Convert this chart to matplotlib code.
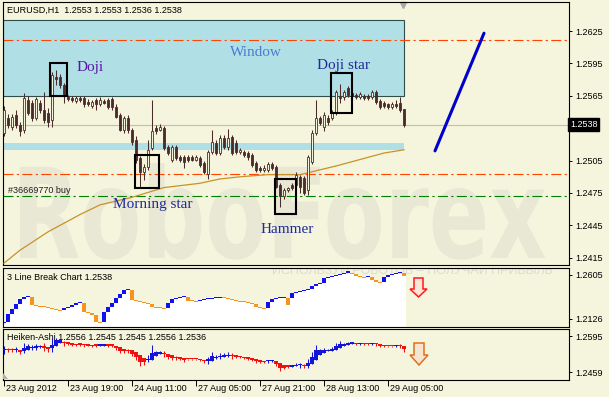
import numpy as np
import matplotlib.pyplot as plt
from matplotlib.patches import Rectangle, Polygon, PathPatch
from matplotlib.textpath import TextPath
from matplotlib.font_manager import FontProperties
from matplotlib.transforms import Affine2D, ScaledTranslation, blended_transform_factory

plt.rcParams['font.family'] = ['Liberation Sans', 'DejaVu Sans']

# ---- EURUSD, H1 : 23 Aug 2012 -> 29 Aug 2012 09:00 ----
opens = [1.2531, 1.2544, 1.2536, 1.2547, 1.2538, 1.2533, 1.2561, 1.2558, 1.2544, 1.2558,
         1.2552, 1.2549, 1.2543, 1.2582, 1.2582, 1.2575, 1.2564, 1.2563, 1.2560, 1.2563,
         1.2563, 1.2559, 1.2556, 1.2561, 1.2557, 1.2560, 1.2561, 1.2562, 1.2555, 1.2547,
         1.2533, 1.2544, 1.2533, 1.2524, 1.2507, 1.2494, 1.2499, 1.2517, 1.2535, 1.2533,
         1.2535, 1.2518, 1.2506, 1.2518, 1.2508, 1.2508, 1.2508, 1.2508, 1.2506, 1.2507,
         1.2503, 1.2493, 1.2513, 1.2521, 1.2512, 1.2526, 1.2518, 1.2527, 1.2521, 1.2513,
         1.2513, 1.2512, 1.2510, 1.2503, 1.2498, 1.2496, 1.2496, 1.2502, 1.2499, 1.2482,
         1.2472, 1.2478, 1.2482, 1.2482, 1.2490, 1.2489, 1.2478, 1.2504, 1.2531, 1.2544,
         1.2536, 1.2544, 1.2544, 1.2549, 1.2564, 1.2564, 1.2572, 1.2568, 1.2566, 1.2564,
         1.2565, 1.2565, 1.2564, 1.2569, 1.2560, 1.2558, 1.2557, 1.2555, 1.2557, 1.2558,
         1.2553]
highs = [1.2556, 1.2548, 1.2548, 1.2552, 1.2541, 1.2568, 1.2565, 1.2561, 1.2564, 1.2561,
         1.2569, 1.2554, 1.2587, 1.2589, 1.2585, 1.2577, 1.2566, 1.2565, 1.2565, 1.2565,
         1.2565, 1.2562, 1.2561, 1.2563, 1.2564, 1.2562, 1.2563, 1.2564, 1.2557, 1.2549,
         1.2546, 1.2547, 1.2535, 1.2528, 1.2509, 1.2502, 1.2524, 1.2561, 1.2538, 1.2539,
         1.2537, 1.2519, 1.2519, 1.2519, 1.2510, 1.2510, 1.2510, 1.2510, 1.2510, 1.2509,
         1.2505, 1.2515, 1.2533, 1.2524, 1.2529, 1.2529, 1.2534, 1.2529, 1.2524, 1.2517,
         1.2515, 1.2514, 1.2512, 1.2505, 1.2500, 1.2501, 1.2504, 1.2504, 1.2501, 1.2484,
         1.2480, 1.2481, 1.2484, 1.2494, 1.2492, 1.2491, 1.2510, 1.2533, 1.2561, 1.2546,
         1.2550, 1.2547, 1.2552, 1.2570, 1.2576, 1.2570, 1.2574, 1.2569, 1.2568, 1.2569,
         1.2567, 1.2567, 1.2570, 1.2570, 1.2562, 1.2560, 1.2558, 1.2559, 1.2561, 1.2564,
         1.2553]
lows = [1.2528, 1.2535, 1.2533, 1.2535, 1.2528, 1.2531, 1.2547, 1.2542, 1.2543, 1.2549,
        1.2540, 1.2536, 1.2536, 1.2575, 1.2572, 1.2558, 1.2560, 1.2559, 1.2558, 1.2559,
        1.2555, 1.2556, 1.2554, 1.2552, 1.2556, 1.2557, 1.2553, 1.2552, 1.2544, 1.2532,
        1.2531, 1.2531, 1.2519, 1.2503, 1.2481, 1.2487, 1.2496, 1.2515, 1.2530, 1.2532,
        1.2515, 1.2510, 1.2504, 1.2506, 1.2504, 1.2498, 1.2504, 1.2505, 1.2505, 1.2499,
        1.2493, 1.2488, 1.2511, 1.2510, 1.2510, 1.2516, 1.2515, 1.2510, 1.2511, 1.2511,
        1.2508, 1.2506, 1.2499, 1.2494, 1.2494, 1.2494, 1.2494, 1.2496, 1.2480, 1.2462,
        1.2469, 1.2476, 1.2478, 1.2481, 1.2475, 1.2473, 1.2473, 1.2502, 1.2529, 1.2538,
        1.2532, 1.2538, 1.2543, 1.2547, 1.2558, 1.2561, 1.2564, 1.2563, 1.2562, 1.2562,
        1.2561, 1.2561, 1.2562, 1.2557, 1.2553, 1.2554, 1.2553, 1.2553, 1.2554, 1.2550,
        1.2536]
closes = [1.2552, 1.2538, 1.2545, 1.2538, 1.2532, 1.2563, 1.2549, 1.2544, 1.2562, 1.2552,
          1.2543, 1.2541, 1.2584, 1.2581, 1.2575, 1.2565, 1.2562, 1.2561, 1.2563, 1.2561,
          1.2557, 1.2557, 1.2559, 1.2557, 1.2561, 1.2558, 1.2555, 1.2555, 1.2545, 1.2533,
          1.2544, 1.2533, 1.2522, 1.2506, 1.2494, 1.2499, 1.2515, 1.2532, 1.2532, 1.2536,
          1.2517, 1.2512, 1.2518, 1.2507, 1.2506, 1.2504, 1.2506, 1.2506, 1.2508, 1.2501,
          1.2494, 1.2513, 1.2522, 1.2512, 1.2526, 1.2518, 1.2526, 1.2512, 1.2513, 1.2515,
          1.2510, 1.2508, 1.2501, 1.2496, 1.2496, 1.2498, 1.2502, 1.2498, 1.2481, 1.2472,
          1.2478, 1.2480, 1.2480, 1.2492, 1.2481, 1.2475, 1.2508, 1.2531, 1.2544, 1.2540,
          1.2547, 1.2541, 1.2549, 1.2569, 1.2563, 1.2569, 1.2566, 1.2565, 1.2564, 1.2567,
          1.2563, 1.2563, 1.2569, 1.2559, 1.2555, 1.2556, 1.2555, 1.2557, 1.2556, 1.2552,
          1.2538]

# moving average read at some bars
ma_bar = [0, 4, 11, 19, 24, 32, 40, 49, 54, 59, 66, 74, 83, 91, 95, 100]
ma_val = [1.2410, 1.2422, 1.2439, 1.2455, 1.2464, 1.2471, 1.2480, 1.2484, 1.2488,
          1.2490, 1.2492, 1.2492, 1.2500, 1.2508, 1.2512, 1.2515]

# 3 Line Break: close of each brick
lb_first_open = 1.2083
lb_close = [1.2090, 1.2177, 1.2235, 1.2286, 1.2340, 1.2369, 1.2376, 1.2279, 1.2268, 1.2260,
            1.2253, 1.2242, 1.2231, 1.2220, 1.2213, 1.2242, 1.2260, 1.2279, 1.2297, 1.2304,
            1.2206, 1.2195, 1.2170, 1.2097, 1.2086, 1.2199, 1.2253, 1.2304, 1.2351, 1.2398,
            1.2442, 1.2453, 1.2333, 1.2322, 1.2315, 1.2304, 1.2289, 1.2260, 1.2249, 1.2242,
            1.2239, 1.2297, 1.2344, 1.2355, 1.2362, 1.2366, 1.2322, 1.2318, 1.2315, 1.2337,
            1.2340, 1.2347, 1.2351, 1.2355, 1.2362, 1.2351, 1.2344, 1.2337, 1.2326, 1.2315,
            1.2308, 1.2304, 1.2286, 1.2253, 1.2242, 1.2239, 1.2308, 1.2340, 1.2351, 1.2358,
            1.2362, 1.2279, 1.2406, 1.2424, 1.2431, 1.2442, 1.2453, 1.2489, 1.2503, 1.2514,
            1.2569, 1.2583, 1.2594, 1.2605, 1.2616, 1.2627, 1.2649, 1.2612, 1.2598, 1.2583,
            1.2569, 1.2587, 1.2551, 1.2533, 1.2518, 1.2587, 1.2605, 1.2612, 1.2623, 1.2634,
            1.2598]

# objects drawn on the chart
window_top, window_bottom = 1.2635, 1.2565
gap_top, gap_bottom = 1.2521, 1.2515
sell_levels = [1.2617, 1.2493]
buy_level = 1.2472
last_price = 1.2538
trend_bars = [107.75, 120.0]
trend_prices = [1.2514, 1.2623]

pattern_boxes = [(11.5, 15.75, 1.2565, 1.2595),    # Doji
                 (81.7, 86.9, 1.2549, 1.2586),     # Doji star
                 (32.7, 38.8, 1.2480, 1.2510),     # Morning star
                 (67.7, 72.9, 1.2456, 1.2488)]     # Hammer
pattern_labels = ['Doji', 'Doji star', 'Morning star', 'Hammer', 'Window']
pattern_label_pos = [(18.25, 1.2588), (78.25, 1.2590), (27.25, 1.2461),
                     (64.25, 1.2438), (56.5, 1.2602)]
pattern_label_col = ['#5B10A8', '#1F2A99', '#1F2A99', '#1F2A99', '#4A7BD0']

price_ticks = [1.2415, 1.2445, 1.2475, 1.2505, 1.2535, 1.2565, 1.2595, 1.2625]
lb_ticks = [1.2126, 1.2605]
ha_ticks = [1.2459, 1.2595]
time_ticks = [0, 16, 32, 48, 64, 80, 96]
time_labels = ['23 Aug 2012', '23 Aug 19:00', '24 Aug 11:00', '27 Aug 05:00',
               '27 Aug 21:00', '28 Aug 13:00', '29 Aug 05:00']

BG = '#F5F4DC'
CANDLE = '#4A2C2C'
W, H = 609, 397

fig = plt.figure(figsize=(W / 100, H / 100), dpi=100)
fig.patch.set_facecolor(BG)


def px_box(l, t, r, b):
    return [l / W, 1 - b / H, (r - l) / W, (b - t) / H]


ax = fig.add_axes(px_box(3, 2, 569, 265))
ax2 = fig.add_axes(px_box(3, 268, 569, 327), sharex=ax)
ax3 = fig.add_axes(px_box(3, 329, 569, 380), sharex=ax)

for a in (ax, ax2, ax3):
    a.set_facecolor(BG)
    for s in a.spines.values():
        s.set_linewidth(0.8)
        s.set_color('black')
    a.yaxis.tick_right()
    a.tick_params(axis='y', direction='out', length=2.2, width=0.7, pad=2.6,
                  labelsize=6.5, colors='black')
ax.set_xlim(-0.25, 141.25)

# ---------------- main chart ----------------
o = np.array(opens); h = np.array(highs); l = np.array(lows); c = np.array(closes)
x = np.arange(len(o))

# watermark
fp = FontProperties(family='DejaVu Sans', weight='bold')
tp = TextPath((0, 0), 'RoboForex', size=1, prop=fp)
ext = tp.get_extents()
cap = TextPath((0, 0), 'R', size=1, prop=fp).get_extents().y1
wx0, wx1, wy0, wy1 = 0.030, 0.958, 0.027, 0.373
tr = Affine2D().translate(-ext.x0, 0).scale((wx1 - wx0) / ext.width, (wy1 - wy0) / cap) \
    .translate(wx0, wy0) + ax.transAxes
ax.add_patch(PathPatch(tp, transform=tr, fc='#E8E8D5', ec='none', zorder=0))

xmin = ax.get_xlim()[0]
ax.add_patch(Rectangle((xmin, window_bottom), 100 - xmin, window_top - window_bottom,
                       fc='#B0E0E6', ec='#2F4F4F', lw=0.8, zorder=1))
ax.add_patch(Rectangle((xmin, gap_bottom), 100 - xmin, gap_top - gap_bottom,
                       fc='#B0E0E6', ec='none', zorder=1))

for lv in sell_levels:
    ax.axhline(lv, color='#FF4500', lw=0.8, dashes=(9, 3, 2, 3), zorder=2)
ax.axhline(buy_level, color='#008000', lw=0.8, dashes=(9, 3, 2, 3), zorder=2)
ax.axhline(last_price, color='#BEBEBE', lw=0.8, zorder=2)

ax.plot(ma_bar, ma_val, color='#C8922A', lw=0.9, zorder=3)

ax.vlines(x, l, h, color=CANDLE, lw=0.75, zorder=4)
body_lo = np.minimum(o, c)
body_h = np.maximum(np.abs(c - o), 0.00009)
ax.bar(x, body_h, bottom=body_lo, width=0.72,
       color=[BG if cc > oo else CANDLE for oo, cc in zip(o, c)],
       edgecolor=CANDLE, linewidth=0.6, zorder=5)

for x0, x1, y0, y1 in pattern_boxes:
    ax.add_patch(Rectangle((x0, y0), x1 - x0, y1 - y0, fc='none', ec='black',
                           lw=1.5, zorder=6))
for txt, (tx, ty), col in zip(pattern_labels, pattern_label_pos, pattern_label_col):
    ax.text(tx, ty, txt, family='Liberation Serif', fontsize=11, color=col,
            va='baseline', ha='left', zorder=7)

ax.plot(trend_bars, trend_prices, color='#0000CD', lw=2.2, solid_capstyle='round', zorder=6)
ax.text(1.0, 1.2477, '#36669770 buy', fontsize=6.5, color='#202020', va='center', zorder=7)

ax.set_ylim(1.24083, 1.26519)
ax.set_yticks(price_ticks)
# the 1.2535 label sits under the current price marker
ax.set_yticklabels(['' if abs(v - last_price) < 0.001 else f'{v:.4f}' for v in price_ticks])
ax.tick_params(axis='x', bottom=False, labelbottom=False)
ax.text(1.0015, last_price, f'{last_price:.4f}', transform=blended_transform_factory(ax.transAxes, ax.transData),
        fontsize=6.5, color='white', va='center', ha='left', zorder=10, clip_on=False,
        bbox=dict(boxstyle='square,pad=0.22', fc='black', ec='black'))
ax.plot([99.75], [0.988], marker='v', ms=4, color='#A8A8A8',
        transform=blended_transform_factory(ax.transData, ax.transAxes), clip_on=False)
fig.text(7 / W, 1 - 10.7 / H, 'EURUSD,H1  1.2553 1.2553 1.2536 1.2538', fontsize=6.5,
         va='center', ha='left', color='black')

# ---------------- 3 Line Break ----------------
lbc = np.array(lb_close)
lbo = np.empty_like(lbc)
lbo[0] = lb_first_open
for k in range(1, len(lbc)):
    up = lbc[k] > lbc[k - 1]
    prev_up = lbc[k - 1] > lbo[k - 1]
    lbo[k] = lbo[k - 1] if up != prev_up else lbc[k - 1]
xl = np.arange(len(lbc))
lb_lo = np.minimum(lbo, lbc)
ax2.set_ylim(1.20389, 1.26812)
ylo = ax2.get_ylim()[0]
ax2.bar(xl, lb_lo - ylo, bottom=ylo, width=1.0, color='white', zorder=1)
ax2.bar(xl, np.maximum(np.abs(lbc - lbo), 0.0012), bottom=lb_lo, width=0.9,
        color=np.where(lbc > lbo, '#1010F0', '#F7941D'), zorder=2)
ax2.text(0.007, 0.836, '3 Line Break Chart 1.2538', transform=ax2.transAxes,
         fontsize=6.5, va='center', zorder=4)
ax2.text(0.475, 0.95, 'ИСПОЛЬЗУЙ РОБОТОВ – ПОЛУЧАЙ ПРИБЫЛЬ', transform=ax2.transAxes,
         fontsize=9, color='#DCDCCF', va='center', ha='left', zorder=1.5, clip_on=True)
ax2.set_yticks(lb_ticks)
ax2.set_yticklabels([f'{v:.4f}' for v in lb_ticks])
ax2.tick_params(axis='x', bottom=False, labelbottom=False)

# ---------------- Heiken-Ashi ----------------
ha_c = (o + h + l + c) / 4
ha_o = np.empty_like(ha_c)
ha_o[0] = (o[0] + c[0]) / 2
for k in range(1, len(ha_c)):
    ha_o[k] = (ha_o[k - 1] + ha_c[k - 1]) / 2
ha_h = np.maximum.reduce([h, ha_o, ha_c])
ha_l = np.minimum.reduce([l, ha_o, ha_c])
ha_col = np.where(ha_c >= ha_o, '#1414D8', '#F01010')
ax3.set_ylim(1.24288, 1.26215)
ax3.text(0.007, 0.824, 'Heiken-Ashi 1.2556 1.2545 1.2545 1.2556 1.2536',
         transform=ax3.transAxes, fontsize=6.5, va='center', zorder=1)
ax3.vlines(x, ha_l, ha_h, colors=ha_col, lw=0.75, zorder=2)
ax3.bar(x, np.maximum(np.abs(ha_c - ha_o), 0.0005), bottom=np.minimum(ha_o, ha_c),
        width=0.8, color=ha_col, zorder=3)
ax3.set_yticks(ha_ticks)
ax3.set_yticklabels([f'{v:.4f}' for v in ha_ticks])
ax3.set_xticks(time_ticks)
ax3.set_xticklabels(time_labels, ha='left')
ax3.tick_params(axis='x', direction='out', length=4, width=0.7, pad=-1.0,
                labelsize=6.5, colors='black')
for lab in ax3.get_xticklabels():
    lab.set_transform(lab.get_transform() + ScaledTranslation(1.5 / 100, 0, fig.dpi_scale_trans))
ax3.add_patch(Polygon([(0, 0.14), (0, 0.02), (0.009, 0.02)], closed=True,
                      transform=ax3.transAxes, fc='#B0B0B0', ec='none', zorder=5))


# ---------------- signal arrows ----------------
def down_arrow(xl_, xr, sl, sr, top, neck, tip, edge, face):
    xm = (xl_ + xr) / 2
    pts = [(sl, top), (sr, top), (sr, neck), (xr, neck), (xm, tip), (xl_, neck), (sl, neck)]
    fig.add_artist(Polygon([(px / W, 1 - py / H) for px, py in pts], closed=True,
                           transform=fig.transFigure, fc=face, ec=edge, lw=1.1))


down_arrow(410, 427, 414, 423, 278, 289, 297, '#FF1A1A', '#FBE7DA')
down_arrow(410, 428, 414, 424, 343, 355, 365, '#E07020', '#F6E6CF')

fig.savefig('out.png', dpi=100, facecolor=BG)
